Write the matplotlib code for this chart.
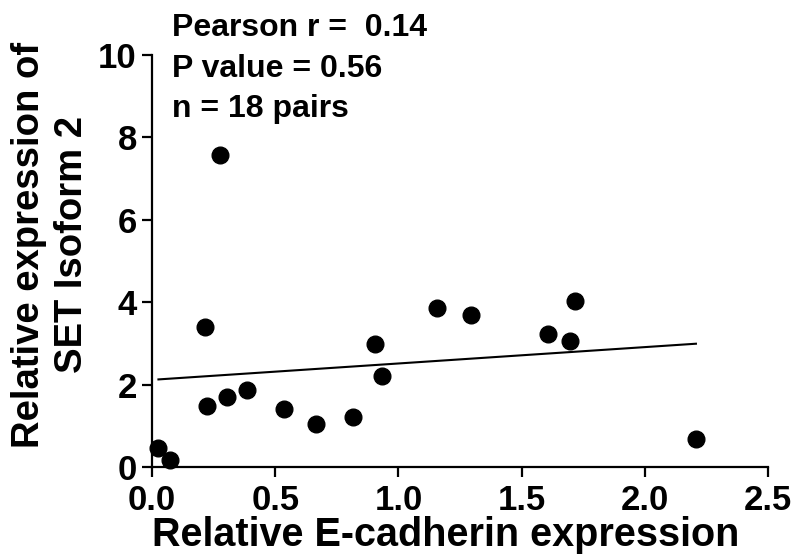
import matplotlib
matplotlib.use("Agg")
import matplotlib.pyplot as plt
import numpy as np

plt.rcParams['font.family'] = ['Liberation Sans', 'DejaVu Sans']
plt.rcParams['font.weight'] = 'bold'

# data
ecad = [0.026, 0.073, 0.213, 0.276, 0.224, 0.303, 0.384, 0.534, 0.665,
        0.815, 0.905, 0.935, 1.155, 1.294, 1.605, 1.696, 1.718, 2.207]
set2 = [0.47, 0.16, 3.40, 7.56, 1.47, 1.69, 1.88, 1.41, 1.05,
        1.21, 2.98, 2.20, 3.86, 3.69, 3.23, 3.05, 4.04, 0.69]
stats_text = "Pearson r =  0.14\nP value = 0.56\nn = 18 pairs"

fig = plt.figure(figsize=(7.96, 5.54), dpi=100)
ax = fig.add_axes([0.191, 0.157, 0.774, 0.744])

ax.plot(ecad, set2, 'o', color='black', markersize=12, clip_on=False)

# linear fit over the range of the data
slope, icpt = np.polyfit(ecad, set2, 1)
xs = np.array([min(ecad), max(ecad)])
ax.plot(xs, slope * xs + icpt, color='black', linewidth=1.5)

ax.set_xlim(0, 2.5)
ax.set_ylim(0, 10)
ax.set_xticks([0.0, 0.5, 1.0, 1.5, 2.0, 2.5])
ax.set_xticklabels(['0.0', '0.5', '1.0', '1.5', '2.0', '2.5'])
ax.set_yticks([0, 2, 4, 6, 8, 10])

for s in ['top', 'right']:
    ax.spines[s].set_visible(False)
for s in ['left', 'bottom']:
    ax.spines[s].set_linewidth(1.6)
ax.tick_params(direction='out', length=7, width=1.6, labelsize=25)
ax.tick_params(axis='x', pad=5)
ax.tick_params(axis='y', pad=4)

ax.set_xlabel("Relative E-cadherin expression", fontsize=28.5, fontweight='bold')
ax.xaxis.set_label_coords(0.477, -0.118)
ax.set_ylabel("Relative expression of\nSET Isoform 2", fontsize=27.5, fontweight='bold',
              linespacing=1.25)
ax.yaxis.set_label_coords(-0.10, 0.539)

fig.text(0.216, 0.976, stats_text, fontsize=23, fontweight='bold', va='top',
         linespacing=1.45)

fig.savefig("out.png", dpi=100)
